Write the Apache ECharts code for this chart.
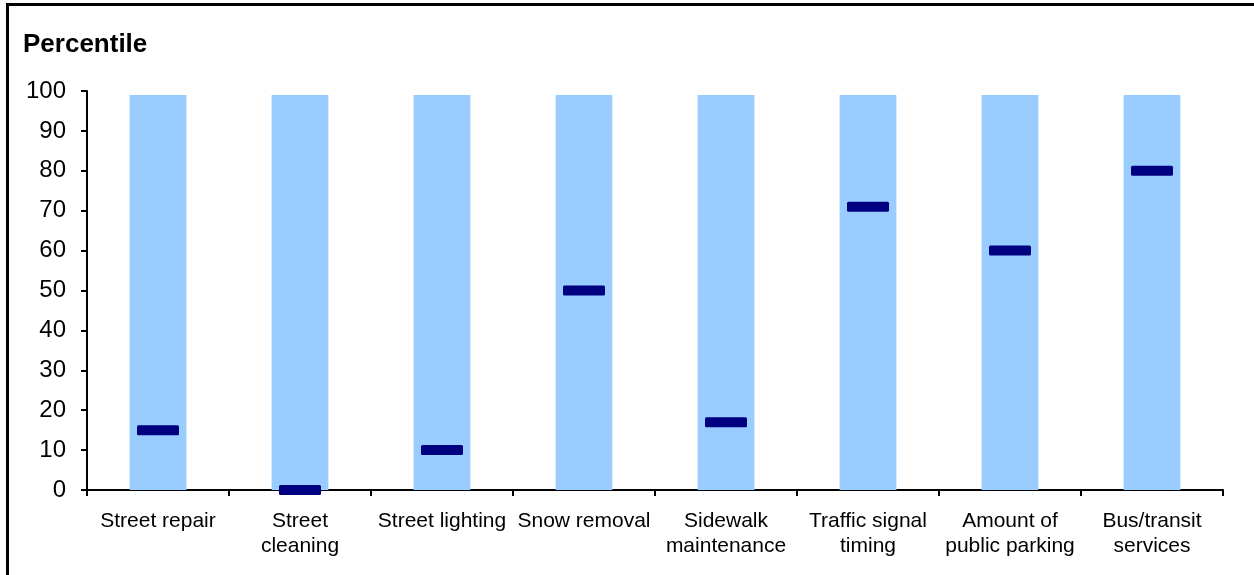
<!DOCTYPE html>
<html>
<head>
<meta charset="utf-8">
<script src="https://cdn.jsdelivr.net/npm/echarts@6/dist/echarts.min.js"></script>
<style>
  html, body { margin: 0; padding: 0; background: #ffffff; }
  #chart { width: 1254px; height: 575px; }
</style>
</head>
<body>
<div id="chart"></div>
<script>
const categories = [
  'Street repair', 'Street\ncleaning', 'Street lighting', 'Snow removal',
  'Sidewalk\nmaintenance', 'Traffic signal\ntiming', 'Amount of\npublic parking', 'Bus/transit\nservices'
];
const rangeTop = [99, 99, 99, 99, 99, 99, 99, 99];
const percentile = [15, 0, 10, 50, 17, 71, 60, 80];
const yTicks = { min: 0, max: 100, interval: 10 };

const chart = echarts.init(document.getElementById('chart'), null, { renderer: 'canvas' });
const font = 'Liberation Sans, Arial, sans-serif';
chart.setOption({
  animation: false,
  backgroundColor: '#ffffff',
  title: {
    text: 'Percentile',
    left: 23, top: 32, padding: 0,
    textStyle: { fontFamily: font, fontWeight: 'bold', fontSize: 26, color: '#000' }
  },
  graphic: [{
    type: 'rect',
    shape: { x: 7.5, y: 4.5, width: 1400, height: 800 },
    style: { fill: 'none', stroke: '#000', lineWidth: 3 },
    silent: true
  }],
  grid: { left: 87, right: 31, top: 91, bottom: 85, containLabel: false },
  xAxis: {
    type: 'category',
    data: categories,
    boundaryGap: true,
    axisLine: { lineStyle: { color: '#000', width: 2 } },
    axisTick: { show: true, length: 6, lineStyle: { color: '#000', width: 2 } },
    axisLabel: {
      interval: 0, margin: 19, color: '#000',
      fontFamily: font, fontSize: 21, lineHeight: 25
    },
    splitLine: { show: false }
  },
  yAxis: {
    type: 'value',
    min: yTicks.min, max: yTicks.max, interval: yTicks.interval,
    axisLine: { show: true, lineStyle: { color: '#000', width: 2 } },
    axisTick: { show: true, length: 6, lineStyle: { color: '#000', width: 2 } },
    axisLabel: { margin: 21, color: '#000', fontFamily: font, fontSize: 24, padding: [3, 0, 0, 0] },
    splitLine: { show: false }
  },
  series: [
    {
      type: 'bar',
      data: rangeTop,
      barWidth: '40%',
      itemStyle: { color: '#99CCFF' },
      z: 1
    },
    {
      type: 'scatter',
      data: percentile,
      symbol: 'path://M1.5,0 H40.5 Q42,0 42,1.5 V8.5 Q42,10 40.5,10 H1.5 Q0,10 0,8.5 V1.5 Q0,0 1.5,0 Z',
      symbolSize: [42, 10],
      symbolKeepAspect: false,
      itemStyle: { color: '#000080', opacity: 1 },
      z: 5
    }
  ]
});
</script>
</body>
</html>
